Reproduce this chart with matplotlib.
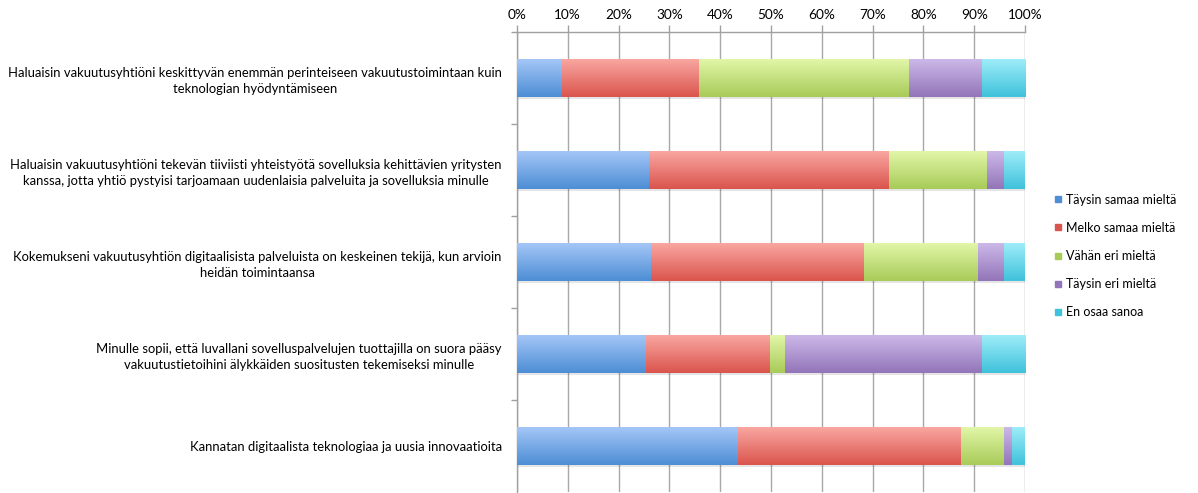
import numpy as np
import matplotlib
matplotlib.use("Agg")
from matplotlib import pyplot as plt
from matplotlib.colors import LinearSegmentedColormap
from matplotlib.lines import Line2D
from matplotlib.ticker import PercentFormatter, MultipleLocator

# Statements (top to bottom)
statements = [
    "Haluaisin vakuutusyhtiöni keskittyvän enemmän perinteiseen vakuutustoimintaan kuin\nteknologian hyödyntämiseen",
    "Haluaisin vakuutusyhtiöni tekevän tiiviisti yhteistyötä sovelluksia kehittävien yritysten\nkanssa, jotta yhtiö pystyisi tarjoamaan uudenlaisia palveluita ja sovelluksia minulle",
    "Kokemukseni vakuutusyhtiön digitaalisista palveluista on keskeinen tekijä, kun arvioin\nheidän toimintaansa",
    "Minulle sopii, että luvallani sovelluspalvelujen tuottajilla on suora pääsy\nvakuutustietoihini älykkäiden suositusten tekemiseksi minulle",
    "Kannatan digitaalista teknologiaa ja uusia innovaatioita",
]

answers = ["Täysin samaa mieltä", "Melko samaa mieltä", "Vähän eri mieltä",
           "Täysin eri mieltä", "En osaa sanoa"]

# Share of respondents (%) per answer, one value per statement
taysin_samaa = [8.8, 26.0, 26.4, 25.4, 43.5]
melko_samaa = [27.0, 47.3, 41.9, 24.5, 43.9]
vahan_eri = [41.4, 19.2, 22.5, 2.8, 8.5]
taysin_eri = [14.3, 3.4, 5.1, 38.8, 1.6]
en_osaa = [8.5, 4.1, 4.1, 8.5, 2.5]

series = [taysin_samaa, melko_samaa, vahan_eri, taysin_eri, en_osaa]

# (top, bottom) gradient colours for each answer
shades = [
    ("#a4c6f7", "#4d8ed5"),
    ("#f9a6a1", "#da554d"),
    ("#e1f6a8", "#a8cb58"),
    ("#ccb8e8", "#9375b9"),
    ("#9eecf8", "#3fc2db"),
]
solid = [c[1] for c in shades]

plt.rcParams["font.family"] = ["Lato", "DejaVu Sans"]

W, H = 1198, 493
fig = plt.figure(figsize=(W / 100, H / 100), dpi=100)
ax = fig.add_axes([517 / W, 1 - 492 / H, 508 / W, 460 / H])

y = np.arange(len(statements))
bar_h = 0.41
left = np.zeros(len(statements))

for vals, (c_top, c_bot) in zip(series, shades):
    vals = np.asarray(vals)
    # faint drop shadow under each segment
    ax.barh(y + 0.025, vals, left=left, height=bar_h, color=(0, 0, 0, 0.10),
            linewidth=0, zorder=2)
    bars = ax.barh(y, vals, left=left, height=bar_h, color="none",
                   linewidth=0, zorder=3)
    cmap = LinearSegmentedColormap.from_list("g", [c_top, c_bot])
    grad = np.linspace(0, 1, 64).reshape(-1, 1)
    for b in bars:
        x0, yb = b.get_x(), b.get_y()
        ax.imshow(grad, cmap=cmap, aspect="auto", origin="upper",
                  extent=(x0, x0 + b.get_width(), yb + b.get_height(), yb),
                  zorder=3, interpolation="bilinear")
    left += vals

ax.set_xlim(0, 100)
ax.set_ylim(len(statements) - 0.5, -0.5)

# percentage axis on top
ax.xaxis.set_major_locator(MultipleLocator(10))
ax.xaxis.set_major_formatter(PercentFormatter(decimals=0))
ax.xaxis.tick_top()
ax.tick_params(axis="x", which="major", length=5, color="#a0a0a0", width=1,
               labelsize=9.8, pad=3, labelcolor="black")
ax.grid(axis="x", color="#a8a8a8", linewidth=1, zorder=0)
ax.set_axisbelow(True)

# category labels, with tick marks between categories
ax.set_yticks(y)
ax.set_yticklabels(statements, fontsize=9.4, multialignment="center",
                   linespacing=1.4)
ax.tick_params(axis="y", which="major", length=0, pad=11)
ax.set_yticks(np.arange(-0.5, len(statements) - 0.5, 1), minor=True)
ax.tick_params(axis="y", which="minor", length=4, color="#a0a0a0", width=1)

for side in ("right", "bottom"):
    ax.spines[side].set_visible(False)
for side in ("left", "top"):
    ax.spines[side].set_color("#a0a0a0")
    ax.spines[side].set_linewidth(1)

handles = [Line2D([], [], marker="s", linestyle="none", markersize=5,
                  markerfacecolor=c, markeredgecolor=c) for c in solid]
fig.legend(handles, answers, loc="center left",
           bbox_to_anchor=(1048 / W, 1 - 256 / H), frameon=False,
           fontsize=9, handlelength=0.6, handletextpad=0.3,
           labelspacing=1.3, borderpad=0)

fig.savefig("out.png", dpi=100)
